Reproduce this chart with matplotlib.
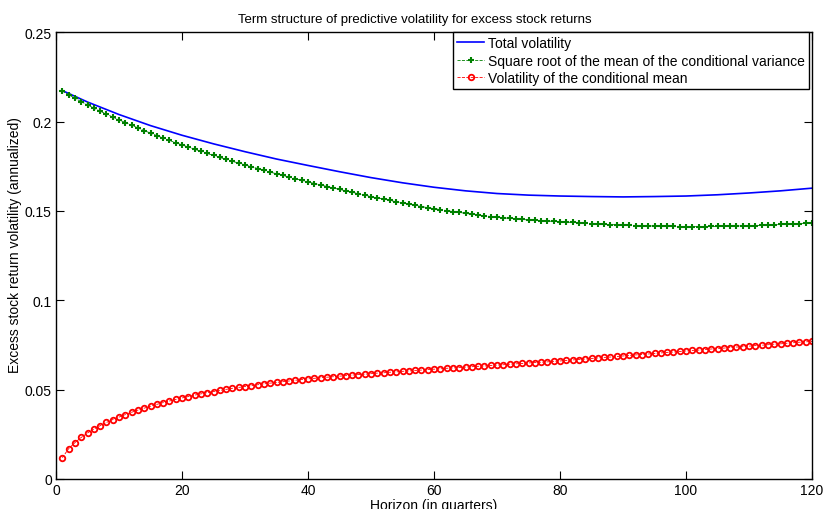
import matplotlib
matplotlib.use("Agg")
import matplotlib.pyplot as plt
import numpy as np

plt.rcParams['font.family'] = ['Liberation Sans', 'DejaVu Sans']

# horizons (quarters) for the marker series
horizon = np.arange(1, 121)

# square root of the mean of the conditional variance
sd_mean_var = [
    0.2170, 0.2150, 0.2130, 0.2111, 0.2093, 0.2075, 0.2058, 0.2041, 0.2025, 0.2009,
    0.1994, 0.1979, 0.1964, 0.1949, 0.1935, 0.1921, 0.1907, 0.1894, 0.1881, 0.1869,
    0.1857, 0.1845, 0.1833, 0.1821, 0.1810, 0.1799, 0.1788, 0.1777, 0.1767, 0.1757,
    0.1747, 0.1737, 0.1727, 0.1717, 0.1707, 0.1698, 0.1689, 0.1680, 0.1671, 0.1662,
    0.1653, 0.1645, 0.1636, 0.1628, 0.1620, 0.1612, 0.1604, 0.1596, 0.1588, 0.1580,
    0.1573, 0.1566, 0.1558, 0.1551, 0.1544, 0.1538, 0.1531, 0.1524, 0.1518, 0.1512,
    0.1507, 0.1501, 0.1496, 0.1491, 0.1486, 0.1481, 0.1477, 0.1472, 0.1468, 0.1464,
    0.1461, 0.1458, 0.1455, 0.1452, 0.1449, 0.1447, 0.1445, 0.1443, 0.1441, 0.1439,
    0.1437, 0.1435, 0.1433, 0.1431, 0.1429, 0.1427, 0.1425, 0.1423, 0.1422, 0.1420,
    0.1419, 0.1418, 0.1417, 0.1416, 0.1415, 0.1414, 0.1413, 0.1413, 0.1412, 0.1412,
    0.1412, 0.1412, 0.1412, 0.1413, 0.1413, 0.1414, 0.1414, 0.1415, 0.1416, 0.1417,
    0.1418, 0.1419, 0.1421, 0.1422, 0.1424, 0.1426, 0.1427, 0.1429, 0.1431, 0.1433,
]

# volatility of the conditional mean
sd_cond_mean = [
    0.0119, 0.0169, 0.0203, 0.0232, 0.0257, 0.0279, 0.0298, 0.0316, 0.0332, 0.0346,
    0.0360, 0.0373, 0.0385, 0.0396, 0.0407, 0.0417, 0.0427, 0.0436, 0.0445, 0.0453,
    0.0461, 0.0469, 0.0476, 0.0483, 0.0489, 0.0495, 0.0501, 0.0507, 0.0512, 0.0517,
    0.0522, 0.0527, 0.0532, 0.0536, 0.0540, 0.0544, 0.0548, 0.0552, 0.0556, 0.0560,
    0.0563, 0.0566, 0.0569, 0.0572, 0.0575, 0.0578, 0.0581, 0.0584, 0.0586, 0.0589,
    0.0592, 0.0594, 0.0597, 0.0599, 0.0602, 0.0604, 0.0607, 0.0609, 0.0612, 0.0614,
    0.0616, 0.0619, 0.0621, 0.0623, 0.0626, 0.0628, 0.0630, 0.0632, 0.0635, 0.0637,
    0.0639, 0.0642, 0.0644, 0.0646, 0.0649, 0.0651, 0.0653, 0.0655, 0.0658, 0.0660,
    0.0663, 0.0666, 0.0668, 0.0671, 0.0674, 0.0677, 0.0680, 0.0682, 0.0685, 0.0688,
    0.0691, 0.0694, 0.0696, 0.0699, 0.0702, 0.0705, 0.0708, 0.0710, 0.0713, 0.0716,
    0.0719, 0.0721, 0.0724, 0.0727, 0.0729, 0.0732, 0.0735, 0.0738, 0.0740, 0.0743,
    0.0746, 0.0748, 0.0751, 0.0754, 0.0756, 0.0759, 0.0762, 0.0765, 0.0767, 0.0770,
]

# total volatility (solid line)
total_horizon = [1, 5, 10, 15, 20, 25, 30, 35, 40, 45, 50, 55, 60, 65, 70, 75, 80,
                 85, 90, 95, 100, 105, 110, 115, 120]
total_vol = [0.2173, 0.2109, 0.2039, 0.1977, 0.1923, 0.1875, 0.1831, 0.1790, 0.1754,
             0.1719, 0.1686, 0.1657, 0.1632, 0.1612, 0.1597, 0.1588, 0.1583, 0.1580,
             0.1578, 0.1580, 0.1583, 0.1590, 0.1600, 0.1612, 0.1627]

x_ticks = [0, 20, 40, 60, 80, 100, 120]
y_ticks = [0, 0.05, 0.1, 0.15, 0.2, 0.25]
y_tick_labels = ['0', '0.05', '0.1', '0.15', '0.2', '0.25']

fig = plt.figure(figsize=(8.24, 5.10), dpi=100)
ax = fig.add_axes([0.068, 0.059, 0.9175, 0.876])

ax.plot(total_horizon, total_vol, color='#0000ff', lw=1.2,
        label='Total volatility')
ax.plot(horizon, sd_mean_var, color='#008000', ls='--', lw=0.6,
        marker='+', ms=4.5, mew=1.5,
        label='Square root of the mean of the conditional variance')
ax.plot(horizon, sd_cond_mean, color='#ff0000', ls='--', lw=0.6,
        marker='o', ms=4.0, mew=1.3, mfc='none',
        label='Volatility of the conditional mean')

ax.set_xlim(0, 120)
ax.set_ylim(0, 0.25)
ax.set_xticks(x_ticks)
ax.set_xticklabels([str(t) for t in x_ticks])
ax.set_yticks(y_ticks)
ax.set_yticklabels(y_tick_labels)
ax.tick_params(direction='in', length=5.5, width=0.8, top=True, right=True,
               labelsize=10, pad=3)
for sp in ax.spines.values():
    sp.set_linewidth(1.0)

ax.set_title('Term structure of predictive volatility for excess stock returns',
             fontsize=9.5, pad=7, x=0.475)
ax.set_xlabel('Horizon (in quarters)', fontsize=10, labelpad=1)
ax.set_ylabel('Excess stock return volatility (annualized)', fontsize=10)
ax.yaxis.set_label_coords(-0.045, 0.526)

leg = ax.legend(loc='upper right', bbox_to_anchor=(0.996, 1.0), fontsize=10,
                frameon=True, fancybox=False, framealpha=1, edgecolor='black',
                borderaxespad=0, handlelength=1.9, handletextpad=0.3,
                labelspacing=0.25, borderpad=0.3)
leg.get_frame().set_linewidth(1.0)

fig.savefig('out.png', dpi=100)
